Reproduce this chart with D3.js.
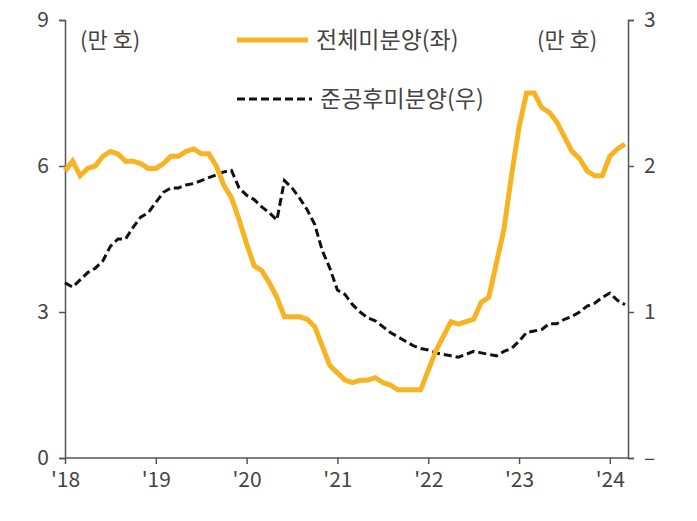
<html>
<head>
<meta charset="utf-8">
<script src="https://cdn.jsdelivr.net/npm/d3@7"></script>
<style>
  body { margin: 0; background: #fff; }
  svg text { font-family: 'Noto Sans CJK KR', 'Noto Sans', sans-serif; fill: #444; }
</style>
</head>
<body>
<div id="chart"></div>
<script>
// monthly, Jan 2018 .. Mar 2024
var totalUnsold = [
  5.9,6.1,5.8,5.95,6.0,6.2,6.3,6.25,6.1,6.1,6.05,5.95,
  5.95,6.05,6.2,6.2,6.3,6.35,6.25,6.25,6.0,5.6,5.35,4.9,
  4.4,3.95,3.85,3.6,3.3,2.9,2.9,2.9,2.85,2.7,2.3,1.9,
  1.75,1.6,1.55,1.6,1.6,1.65,1.55,1.5,1.4,1.4,1.4,1.4,
  1.8,2.2,2.5,2.8,2.75,2.8,2.85,3.2,3.3,4.0,4.7,5.8,
  6.8,7.5,7.5,7.2,7.1,6.9,6.6,6.3,6.15,5.9,5.8,5.8,
  6.2,6.35,6.45
];
var completedUnsold = [
  1.2,1.17,1.22,1.27,1.3,1.35,1.45,1.5,1.5,1.58,1.65,1.68,
  1.75,1.82,1.85,1.85,1.87,1.88,1.9,1.92,1.94,1.96,1.97,1.85,
  1.8,1.77,1.72,1.68,1.63,1.9,1.85,1.78,1.7,1.6,1.42,1.3,
  1.15,1.12,1.05,1.0,0.96,0.94,0.9,0.86,0.83,0.8,0.77,0.75,
  0.74,0.72,0.71,0.70,0.69,0.71,0.73,0.72,0.71,0.70,0.73,0.75,
  0.8,0.86,0.87,0.88,0.92,0.92,0.95,0.97,1.0,1.04,1.06,1.1,
  1.13,1.08,1.05
];
var years = [2018, 2019, 2020, 2021, 2022, 2023, 2024];
var yearLabels = ["'18", "'19", "'20", "'21", "'22", "'23", "'24"];
var leftTicks = [0, 3, 6, 9];
var rightTicks = [0, 1, 2, 3];

var W = 697, H = 521;
var X0 = 65, X1 = 628, TOP = 20, BOT = 458;

var svg = d3.select('#chart').append('svg').attr('width', W).attr('height', H);

var x = d3.scaleLinear().domain([2018, 2024.2]).range([X0, X1]);
var yL = d3.scaleLinear().domain([0, 9]).range([BOT, TOP]);
var yR = d3.scaleLinear().domain([0, 3]).range([BOT, TOP]);
var t = function(i) { return 2018 + i / 12; };

// axes
var axL = svg.append('g').attr('transform', 'translate(' + X0 + ',0)')
  .call(d3.axisLeft(yL).tickValues(leftTicks).tickSize(6).tickPadding(10));
var axR = svg.append('g').attr('transform', 'translate(' + X1 + ',0)')
  .call(d3.axisRight(yR).tickValues(rightTicks).tickSize(6).tickPadding(10)
    .tickFormat(function(d) { return d === 0 ? '–' : d; }));
var axB = svg.append('g').attr('transform', 'translate(0,' + BOT + ')')
  .call(d3.axisBottom(x).tickValues(years).tickSize(6).tickPadding(8)
    .tickFormat(function(d, i) { return yearLabels[i]; }));
[axL, axR, axB].forEach(function(a) {
  a.selectAll('path, line').attr('stroke', '#555').attr('stroke-width', 1.5);
  a.selectAll('text').style('font-size', '21px').attr('fill', '#444');
});
axB.select('.domain').remove();
svg.append('line').attr('x1', X0).attr('x2', X1).attr('y1', BOT).attr('y2', BOT)
  .attr('stroke', '#555').attr('stroke-width', 1.5);

// lines
svg.append('path').datum(completedUnsold)
  .attr('d', d3.line().x(function(d, i) { return x(t(i)); }).y(function(d) { return yR(d); }))
  .attr('fill', 'none').attr('stroke', '#111').attr('stroke-width', 3)
  .attr('stroke-dasharray', '8,4');
svg.append('path').datum(totalUnsold)
  .attr('d', d3.line().x(function(d, i) { return x(t(i)); }).y(function(d) { return yL(d); }))
  .attr('fill', 'none').attr('stroke', '#F8B323').attr('stroke-width', 5);

// unit labels
svg.append('text').attr('x', 80).attr('y', 48).style('font-size', '22px').text('(만 호)');
svg.append('text').attr('x', 537).attr('y', 48).style('font-size', '22px').text('(만 호)');

// legend
svg.append('line').attr('x1', 237).attr('x2', 308).attr('y1', 40).attr('y2', 40)
  .attr('stroke', '#F8B323').attr('stroke-width', 5);
svg.append('text').attr('x', 316).attr('y', 48).style('font-size', '23px').text('전체미분양(좌)');
svg.append('line').attr('x1', 237).attr('x2', 312).attr('y1', 99).attr('y2', 99)
  .attr('stroke', '#111').attr('stroke-width', 3).attr('stroke-dasharray', '8,4');
svg.append('text').attr('x', 320).attr('y', 107).style('font-size', '23px').text('준공후미분양(우)');
</script>
</body>
</html>
